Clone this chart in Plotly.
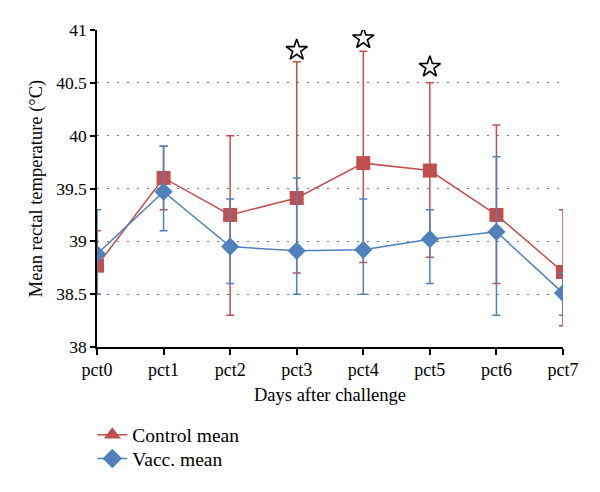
import plotly.graph_objects as go

days = ["pct0", "pct1", "pct2", "pct3", "pct4", "pct5", "pct6", "pct7"]
control_mean = [38.77, 39.60, 39.25, 39.41, 39.74, 39.67, 39.25, 38.71]
control_upper = [39.10, 39.90, 40.00, 40.70, 40.80, 40.50, 40.10, 39.30]
control_lower = [38.50, 39.30, 38.30, 38.70, 38.80, 38.85, 38.60, 38.20]
vacc_mean = [38.88, 39.47, 38.95, 38.91, 38.92, 39.02, 39.09, 38.51]
vacc_upper = [39.30, 39.90, 39.40, 39.60, 39.40, 39.30, 39.80, 38.70]
vacc_lower = [38.50, 39.10, 38.60, 38.50, 38.50, 38.60, 38.30, 38.30]
star_days = ["pct3", "pct4", "pct5"]
star_y = [40.81, 40.92, 40.65]

RED = "#C0504D"
BLUE = "#4F81BD"
FONT = "Liberation Serif"

fig = go.Figure()

fig.add_trace(go.Scatter(
    x=days, y=control_mean, mode="lines+markers", showlegend=False,
    line=dict(color=RED, width=1.5),
    marker=dict(symbol="square", size=14, color=RED),
    error_y=dict(type="data", symmetric=False,
                 array=[u - m for u, m in zip(control_upper, control_mean)],
                 arrayminus=[m - l for m, l in zip(control_mean, control_lower)],
                 color=RED, thickness=1.5, width=4),
))
fig.add_trace(go.Scatter(
    x=days, y=vacc_mean, mode="lines+markers", showlegend=False,
    line=dict(color=BLUE, width=1.5),
    marker=dict(symbol="diamond", size=14, color=BLUE),
    error_y=dict(type="data", symmetric=False,
                 array=[u - m for u, m in zip(vacc_upper, vacc_mean)],
                 arrayminus=[m - l for m, l in zip(vacc_mean, vacc_lower)],
                 color=BLUE, thickness=1.5, width=4),
))
# significance stars
fig.add_trace(go.Scatter(
    x=star_days, y=star_y, mode="markers", showlegend=False, hoverinfo="skip",
    marker=dict(symbol="star-open", size=16, color="black", line=dict(width=1.6, color="black")),
))
# legend entries (legend icon for control uses a triangle, as in the original)
fig.add_trace(go.Scatter(
    x=[None], y=[None], mode="lines+markers", name="Control mean", legend="legend",
    line=dict(color=RED, width=1.5),
    marker=dict(symbol="triangle-up", size=15, color=RED),
))
fig.add_trace(go.Scatter(
    x=[None], y=[None], mode="lines+markers", name="Vacc. mean", legend="legend2",
    line=dict(color=BLUE, width=1.5),
    marker=dict(symbol="diamond", size=15, color=BLUE),
))

legend_common = dict(x=-0.01, xanchor="left", yanchor="middle",
                     font=dict(family=FONT, size=19.5), bgcolor="rgba(0,0,0,0)")
fig.update_layout(
    width=600, height=492,
    margin=dict(l=89, r=45, t=22, b=153, autoexpand=False),
    paper_bgcolor="white", plot_bgcolor="white",
    font=dict(family=FONT, size=18, color="black"),
    legend=dict(y=-0.278, **legend_common),
    legend2=dict(y=-0.353, **legend_common),
)
fig.update_xaxes(
    type="category", range=[0, 7], showline=True, linecolor="black", linewidth=1.5,
    ticks="outside", ticklen=6, tickcolor="black", tickwidth=1.5,
    showgrid=False, zeroline=False,
    title=dict(text="Days after challenge", font=dict(family=FONT, size=18.5), standoff=9),
    tickfont=dict(family=FONT, size=18),
)
fig.update_yaxes(
    range=[38, 41], dtick=0.5, showline=True, linecolor="black", linewidth=1.5,
    ticks="outside", ticklen=5, tickcolor="black", tickwidth=1.5,
    showgrid=True, gridcolor="#777777", gridwidth=1.2, griddash="2px,8px",
    zeroline=False,
    title=dict(text="Mean rectal temperature (°C)", font=dict(family=FONT, size=18.5), standoff=9),
    tickfont=dict(family=FONT, size=17.5),
)

fig.write_html("out.html")
